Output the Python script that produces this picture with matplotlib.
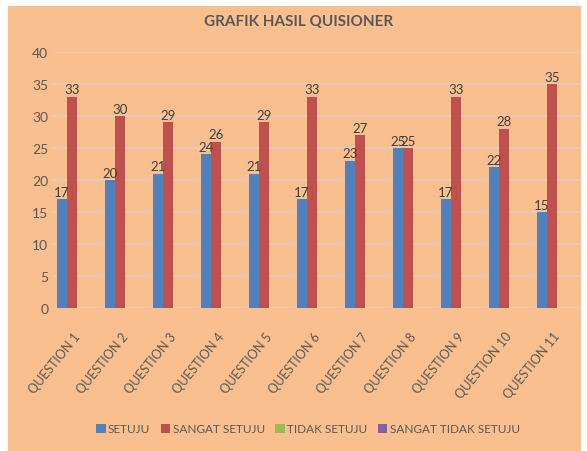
import numpy as np
import matplotlib
matplotlib.use("Agg")
import matplotlib.pyplot as plt
import matplotlib.transforms as mtransforms
from matplotlib.patches import Rectangle

questions = [f"QUESTION {i}" for i in range(1, 12)]
setuju = [17, 20, 21, 24, 21, 17, 23, 25, 17, 22, 15]
sangat_setuju = [33, 30, 29, 26, 29, 33, 27, 25, 33, 28, 35]
series_names = ["SETUJU", "SANGAT SETUJU", "TIDAK SETUJU", "SANGAT TIDAK SETUJU"]
colors = ["#4F81BD", "#C0504D", "#9BBB59", "#8064A2"]

BG = "#F9BF8F"
TXT = "#595959"
plt.rcParams["font.family"] = ["Lato", "DejaVu Sans"]

fig = plt.figure(figsize=(5.87, 4.52), dpi=100)
fig.patch.set_facecolor("white")
fig.patches.append(Rectangle((8 / 587, 0), (581 - 8) / 587, 1 - 7 / 452,
                             transform=fig.transFigure, facecolor=BG,
                             edgecolor="none", zorder=-10))

ax = fig.add_axes([53 / 587, 143 / 452, 527 / 587, 256 / 452])
ax.set_facecolor("none")

x = np.arange(len(questions))
w = 0.21
b1 = ax.bar(x - w / 2, setuju, w, color=colors[0], label=series_names[0], zorder=3)
b2 = ax.bar(x + w / 2, sangat_setuju, w, color=colors[1], label=series_names[1], zorder=3)
# empty series, shown only in the legend
ax.bar(x, [0] * len(x), 0, color=colors[2], label=series_names[2])
ax.bar(x, [0] * len(x), 0, color=colors[3], label=series_names[3])

for bars in (b1, b2):
    ax.bar_label(bars, padding=1, fontsize=9.5, color="#404040")

ax.set_ylim(0, 40)
ax.set_yticks(range(0, 41, 5))
ax.set_xlim(-0.29, 10.69)
ax.grid(axis="y", color="#E3CDBF", linewidth=1.3, zorder=0)
ax.tick_params(length=0, colors=TXT, labelsize=10)
for s in ax.spines.values():
    s.set_visible(False)

ax.set_xticks(x)
ax.set_xticklabels(questions, rotation=51, ha="right", rotation_mode="anchor",
                   fontsize=9, color=TXT)
offset = mtransforms.ScaledTranslation(6 / 100, -17 / 100, fig.dpi_scale_trans)
for lab in ax.get_xticklabels():
    lab.set_transform(lab.get_transform() + offset)

fig.text(299 / 587, 1 - 22 / 452, "GRAFIK HASIL QUISIONER", ha="center",
         va="center", fontsize=11, fontweight="bold", color=TXT)

fig.legend(loc="center", bbox_to_anchor=(308 / 587, 1 - 430 / 452), ncol=4,
           frameon=False, fontsize=8.5, labelcolor=TXT, handlelength=0.8,
           handleheight=0.9, handletextpad=0.2, columnspacing=0.9)

fig.savefig("out.png", dpi=100)
